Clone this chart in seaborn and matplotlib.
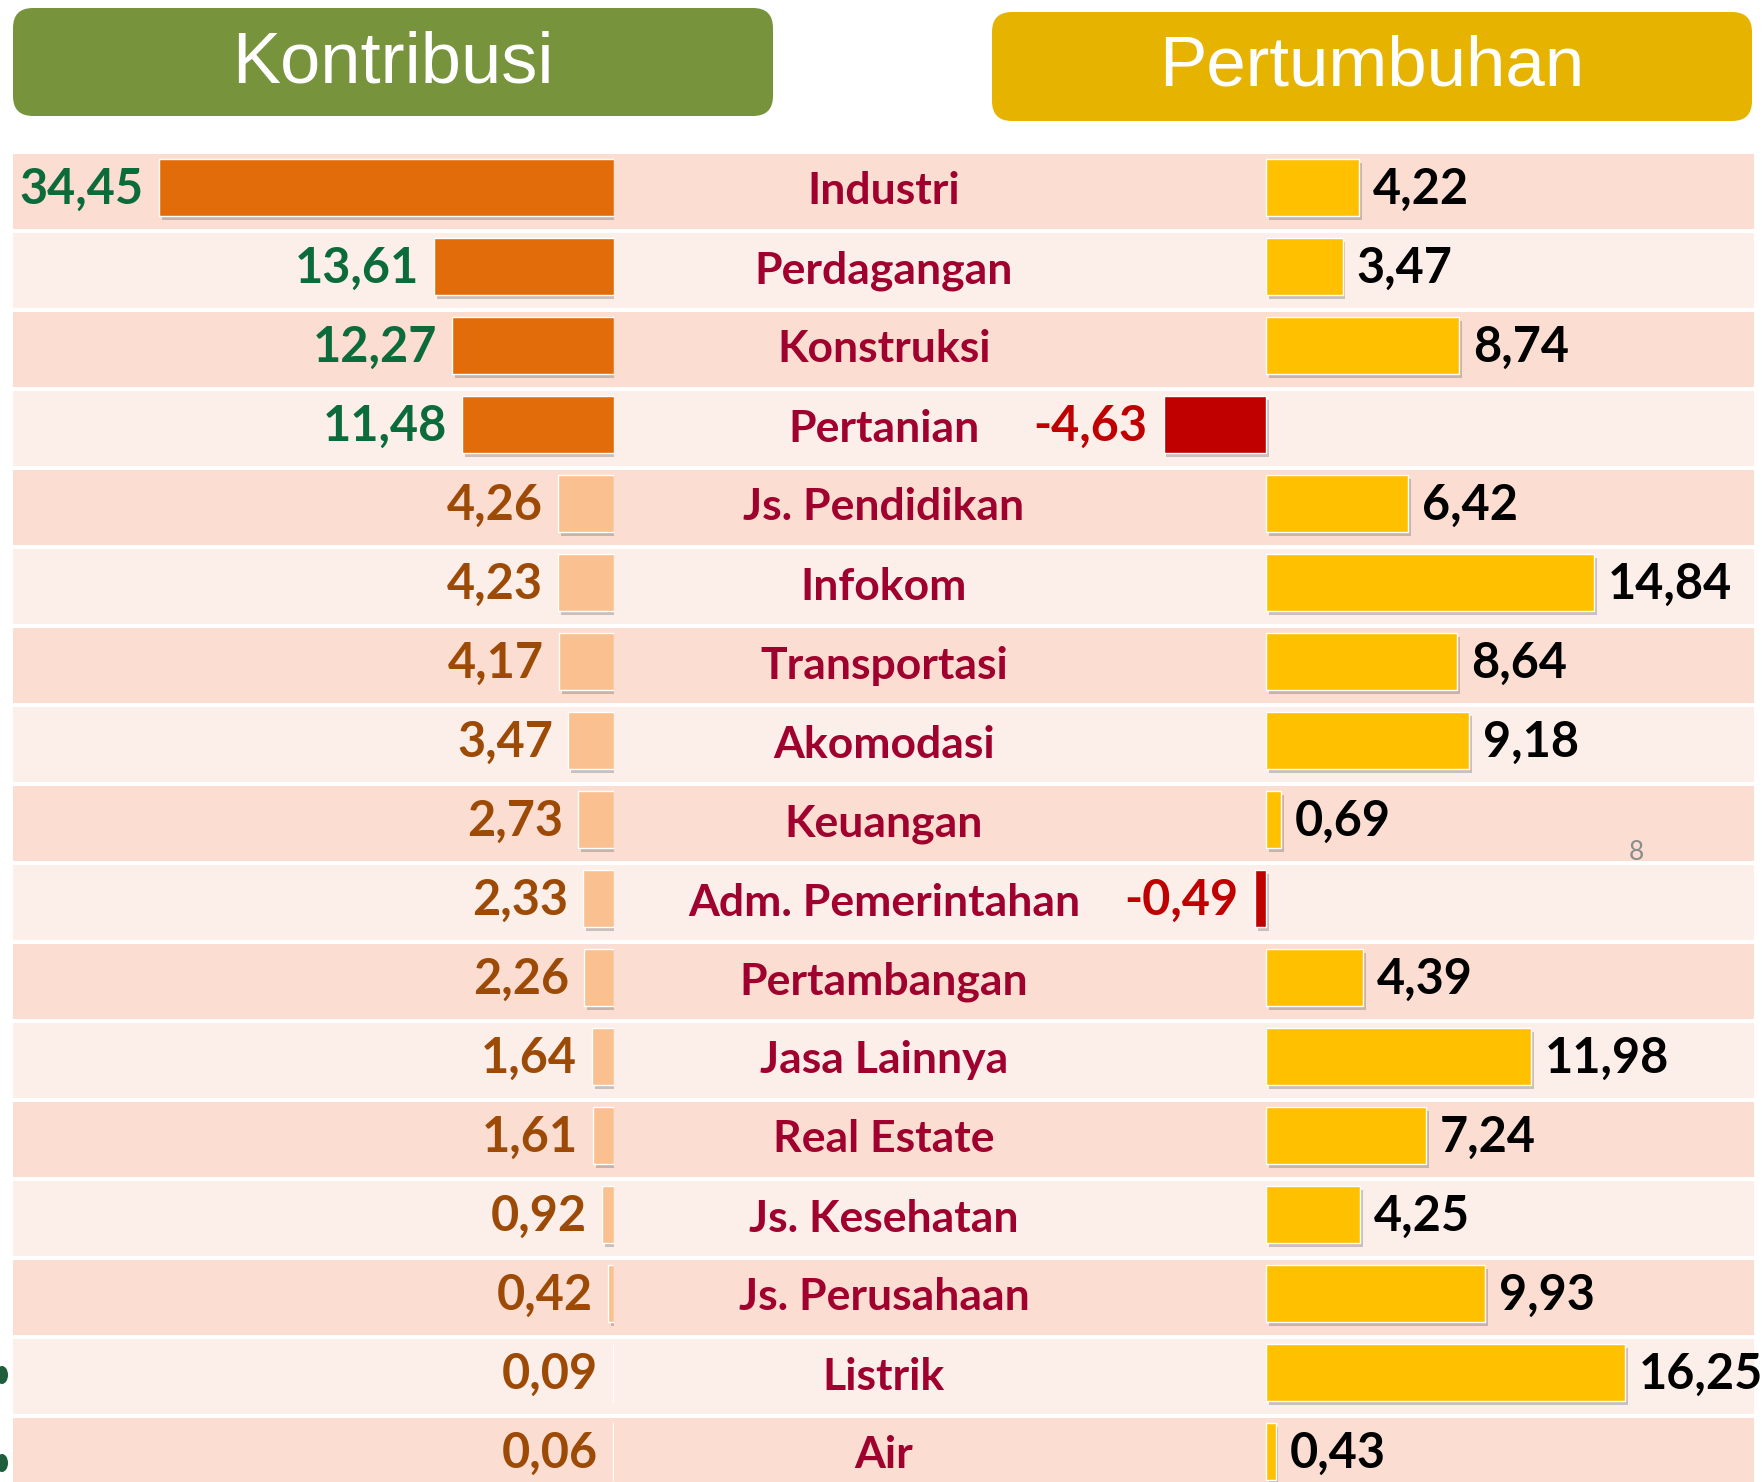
import pandas as pd
import matplotlib
matplotlib.use("Agg")
import matplotlib.pyplot as plt
import seaborn as sns
from matplotlib.patches import FancyBboxPatch, Ellipse
from matplotlib import patheffects as pe
from matplotlib.transforms import blended_transform_factory

# Data
sektor = ["Industri", "Perdagangan", "Konstruksi", "Pertanian", "Js. Pendidikan",
          "Infokom", "Transportasi", "Akomodasi", "Keuangan", "Adm. Pemerintahan",
          "Pertambangan", "Jasa Lainnya", "Real Estate", "Js. Kesehatan",
          "Js. Perusahaan", "Listrik", "Air"]
kontribusi = [34.45, 13.61, 12.27, 11.48, 4.26, 4.23, 4.17, 3.47, 2.73, 2.33,
              2.26, 1.64, 1.61, 0.92, 0.42, 0.09, 0.06]
pertumbuhan = [4.22, 3.47, 8.74, -4.63, 6.42, 14.84, 8.64, 9.18, 0.69, -0.49,
               4.39, 11.98, 7.24, 4.25, 9.93, 16.25, 0.43]
judul_kiri = "Kontribusi"
judul_kanan = "Pertumbuhan"
halaman = "8"

df = pd.DataFrame({"sektor": sektor, "kontribusi": kontribusi, "pertumbuhan": pertumbuhan})


def fmt(v):
    return f"{v:.2f}".replace(".", ",")


sns.set_theme(style="white")
plt.rcParams["font.family"] = ["Lato", "DejaVu Sans"]

W, H = 1764, 1482
fig = plt.figure(figsize=(W / 100, H / 100), dpi=100)


def px_axes(x0, y0, x1, y1):
    return fig.add_axes([x0 / W, 1 - y1 / H, (x1 - x0) / W, (y1 - y0) / H])


n = len(sektor)
y_bawah = -0.5 + (1482 - 152) / 79.0
geser = 0.05  # bars sit slightly above the row centre

# header boxes (pixel coordinates)
ax_head = fig.add_axes([0, 0, 1, 1])
ax_head.set_xlim(0, W)
ax_head.set_ylim(H, 0)
ax_head.axis("off")
ax_head.add_patch(FancyBboxPatch((13, 8), 760, 108, boxstyle="round,pad=0,rounding_size=20",
                                 fc="#77933C", ec="none"))
ax_head.add_patch(FancyBboxPatch((992, 12), 760, 109, boxstyle="round,pad=0,rounding_size=20",
                                 fc="#E6B300", ec="none"))
ax_head.text(393, 64, judul_kiri, color="white", fontsize=52, ha="center", va="center",
             family=["Liberation Sans", "DejaVu Sans"])
ax_head.text(1372, 68, judul_kanan, color="white", fontsize=51, ha="center", va="center",
             family=["Liberation Sans", "DejaVu Sans"])
# small leftover marks at the left edge
for yy in (1375, 1463):
    ax_head.add_patch(Ellipse((2, yy), 12, 18, fc="#1E5E3C", ec="none"))

# row backgrounds + category names
ax_bg = px_axes(13, 152, 1754, 1482)
for i in range(n):
    warna = "#FBDDD1" if i % 2 == 0 else "#FCEEE9"
    ax_bg.axhspan(i - 0.5 + 0.02, i + 0.5 - 0.02, color=warna, lw=0)
ax_bg.set_xlim(0, 1)
ax_bg.set_ylim(y_bawah, -0.5)
ax_bg.axis("off")
tr = blended_transform_factory(ax_bg.transAxes, ax_bg.transData)
for i, s in enumerate(sektor):
    ax_bg.text((884 - 13) / 1741, i, s, transform=tr, ha="center", va="center",
               fontsize=32, fontweight="bold", color="#A0002E")

bayangan = [pe.SimplePatchShadow(offset=(2, -3), alpha=0.3, shadow_rgbFace="#555555"), pe.Normal()]

# left: kontribusi
ax_l = px_axes(13, 152, 614, 1482)
pal_l = {s: ("#E36C0A" if v >= 10 else "#FAC090") for s, v in zip(sektor, kontribusi)}
sns.barplot(data=df, x="kontribusi", y="sektor", hue="sektor", palette=pal_l,
            saturation=1, width=0.72, legend=False, ax=ax_l)
ax_l.set_xlim(601 / 13.2, 0)
ax_l.set_ylim(y_bawah + geser, -0.5 + geser)
ax_l.axis("off")
for p in ax_l.patches:
    p.set_path_effects(bayangan)
for i, v in enumerate(kontribusi):
    ax_l.annotate(fmt(v), xy=(v, i), xytext=(-11, -1.5), textcoords="offset points",
                  ha="right", va="center", fontsize=35, fontweight="bold",
                  color="#0B6B3A" if v >= 10 else "#9C4A06")

# right: pertumbuhan
ax_r = px_axes(1100, 152, 1754, 1482)
pal_r = {s: ("#C00000" if v < 0 else "#FFC000") for s, v in zip(sektor, pertumbuhan)}
sns.barplot(data=df, x="pertumbuhan", y="sektor", hue="sektor", palette=pal_r,
            saturation=1, width=0.72, legend=False, ax=ax_r)
ax_r.set_xlim(-(1266 - 1100) / 22.1, (1754 - 1266) / 22.1)
ax_r.set_ylim(y_bawah + geser, -0.5 + geser)
ax_r.axis("off")
for p in ax_r.patches:
    p.set_path_effects(bayangan)
for i, v in enumerate(pertumbuhan):
    if v < 0:
        ax_r.annotate(fmt(v), xy=(v, i), xytext=(-12, -1.5), textcoords="offset points",
                      ha="right", va="center", fontsize=35, fontweight="bold", color="#C00000")
    else:
        ax_r.annotate(fmt(v), xy=(v, i), xytext=(10, -1.5), textcoords="offset points",
                      ha="left", va="center", fontsize=35, fontweight="bold", color="black")

fig.text(1636 / W, 1 - 852 / H, halaman, fontsize=19, color="#8C8C8C", ha="center", va="center")

fig.savefig("out.png", dpi=100)
